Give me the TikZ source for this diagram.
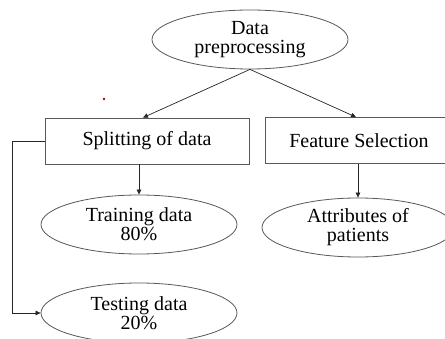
\documentclass[tikz,border=0pt]{standalone}
\usepackage{fontspec}
\setmainfont{Liberation Serif}
\usetikzlibrary{shapes.geometric,arrows.meta}
\begin{document}
\begin{tikzpicture}[x=1pt,y=-1pt,
  every node/.style={font=\fontsize{20}{19}\selectfont, align=center, inner sep=0pt},
  oval/.style={ellipse, draw=black!65, line width=0.8pt, minimum width=196pt, minimum height=59pt},
  boxnode/.style={rectangle, draw=black!65, line width=0.8pt, minimum height=46pt},
  arr/.style={draw=black!85, line width=0.7pt, -{Triangle[length=5pt,width=4.5pt]}}]
\clip (0,0) rectangle (445,339);
\fill[white] (0,0) rectangle (445,339);
\node[oval] (dp) at (250,39.5) {Data\\preprocessing};
\node[boxnode, minimum width=204pt] (split) at (147,141) {Splitting of data};
\node[boxnode, minimum width=188pt] (feat) at (359,140.5) {Feature Selection};
\node[oval] (train) at (139,224.5) {Training data\\80\%};
\node[oval, minimum width=192pt] (attr) at (358,227.5) {Attributes of\\patients};
\node[oval, minimum height=60pt] (test) at (139,313) {Testing data\\20\%};
\coordinate (dot) at (104,99);
\fill[red!70!black] (dot) circle (1.4pt);
\draw[arr] (dp.south) -- ([xshift=-4pt]split.north);
\draw[arr] (dp.south) -- ([xshift=-3pt]feat.north);
\draw[arr] (train.north |- split.south) -- (train.north);
\draw[arr] (attr.north |- feat.south) -- (attr.north);
\draw[arr] (split.west) -- ++(-32,0) |- (test.west);
\end{tikzpicture}
\end{document}
